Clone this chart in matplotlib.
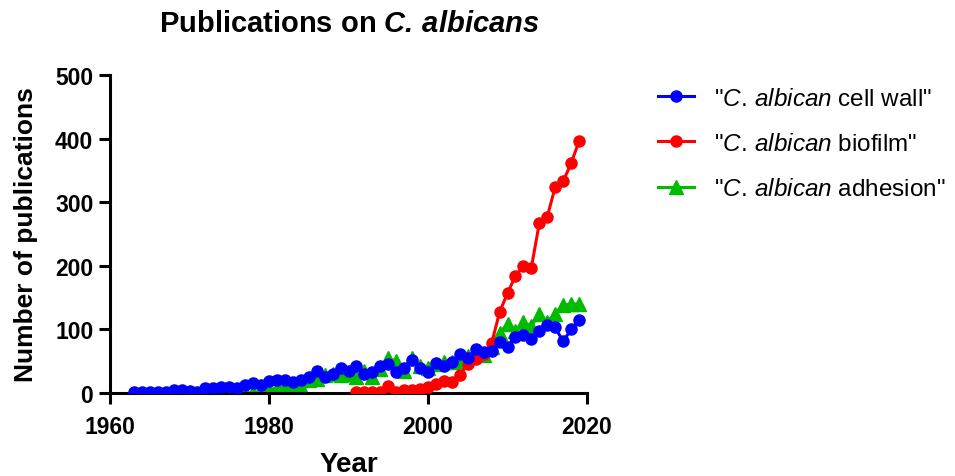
import numpy as np
import matplotlib
matplotlib.use("Agg")
import matplotlib.pyplot as plt

plt.rcParams['font.family'] = ['Liberation Sans', 'DejaVu Sans']
plt.rcParams['mathtext.fontset'] = 'custom'
plt.rcParams['mathtext.rm'] = 'Liberation Sans'
plt.rcParams['mathtext.it'] = 'Liberation Sans:italic'
plt.rcParams['mathtext.bf'] = 'Liberation Sans:bold'
plt.rcParams['mathtext.bfit'] = 'Liberation Sans:italic:bold'

# Yearly publication counts
cell_wall_years = list(range(1963, 2020))
cell_wall = [1, 1, 1, 1, 2, 4, 4, 3, 1, 8,
             8, 10, 10, 8, 12, 16, 13, 19, 21, 20,
             18, 20, 25, 35, 25, 30, 40, 35, 43, 30,
             33, 42, 45, 33, 40, 52, 40, 33, 47, 43,
             49, 62, 55, 69, 64, 66, 80, 73, 88, 91,
             85, 98, 107, 103, 81, 100, 115]

biofilm_years = list(range(1991, 2020))
biofilm = [1, 1, 1, 1, 11, 1, 5, 5, 6, 9,
           14, 19, 17, 28, 46, 53, 62, 78, 127, 157,
           184, 200, 197, 267, 277, 324, 333, 361, 396]

adhesion_years = list(range(1973, 2020))
adhesion = [0, 0, 2, 0, 0, 1, 2, 5, 8, 10,
            12, 10, 20, 22, 28, 30, 28, 30, 25, 35,
            25, 38, 55, 50, 35, 55, 42, 40, 45, 48,
            48, 50, 58, 62, 60, 72, 95, 108, 98, 112,
            105, 125, 112, 125, 138, 140, 140]

x_ticks = [1960, 1980, 2000, 2020]
y_ticks = [0, 100, 200, 300, 400, 500]

fig = plt.figure(figsize=(9.55, 4.77), dpi=100)
ax = fig.add_axes([110 / 955, 83 / 477, 477 / 955, 318 / 477])

ax.plot(cell_wall_years, cell_wall, color='#0000FF', lw=2.2, marker='o', ms=8,
        label=r'"$\mathit{C.\,albican}$ cell wall"', zorder=4)
ax.plot(biofilm_years, biofilm, color='#FF0000', lw=2.2, marker='o', ms=8,
        label=r'"$\mathit{C.\,albican}$ biofilm"', zorder=3)
ax.plot(adhesion_years, adhesion, color='#00BB00', lw=2.2, marker='^', ms=10,
        label=r'"$\mathit{C.\,albican}$ adhesion"', zorder=2)

ax.set_xlim(1960, 2020)
ax.set_ylim(0, 500)
ax.set_xticks(x_ticks)
ax.set_yticks(y_ticks)
for side in ('top', 'right'):
    ax.spines[side].set_visible(False)
for side in ('left', 'bottom'):
    ax.spines[side].set_linewidth(2.2)
ax.tick_params(width=2.2, length=8, labelsize=16.5)
ax.tick_params(axis='x', pad=8)
ax.tick_params(axis='y', pad=4)
for lab in ax.get_xticklabels() + ax.get_yticklabels():
    lab.set_fontweight('bold')
ax.set_xlabel('Year', fontsize=20, fontweight='bold', labelpad=9)
ax.set_ylabel('Number of publications', fontsize=19, fontweight='bold', labelpad=12)
fig.text(349 / 955, 1 - 24 / 477, r'Publications on $\mathbfit{C.\,albicans}$',
         fontsize=21, fontweight='bold', ha='center', va='center')

fig.legend(loc='upper left', bbox_to_anchor=(636 / 955, 1 - 67 / 477),
           frameon=False, fontsize=17.5, handlelength=1.5, handletextpad=0.8,
           labelspacing=0.95)

fig.savefig('out.png', dpi=100)
